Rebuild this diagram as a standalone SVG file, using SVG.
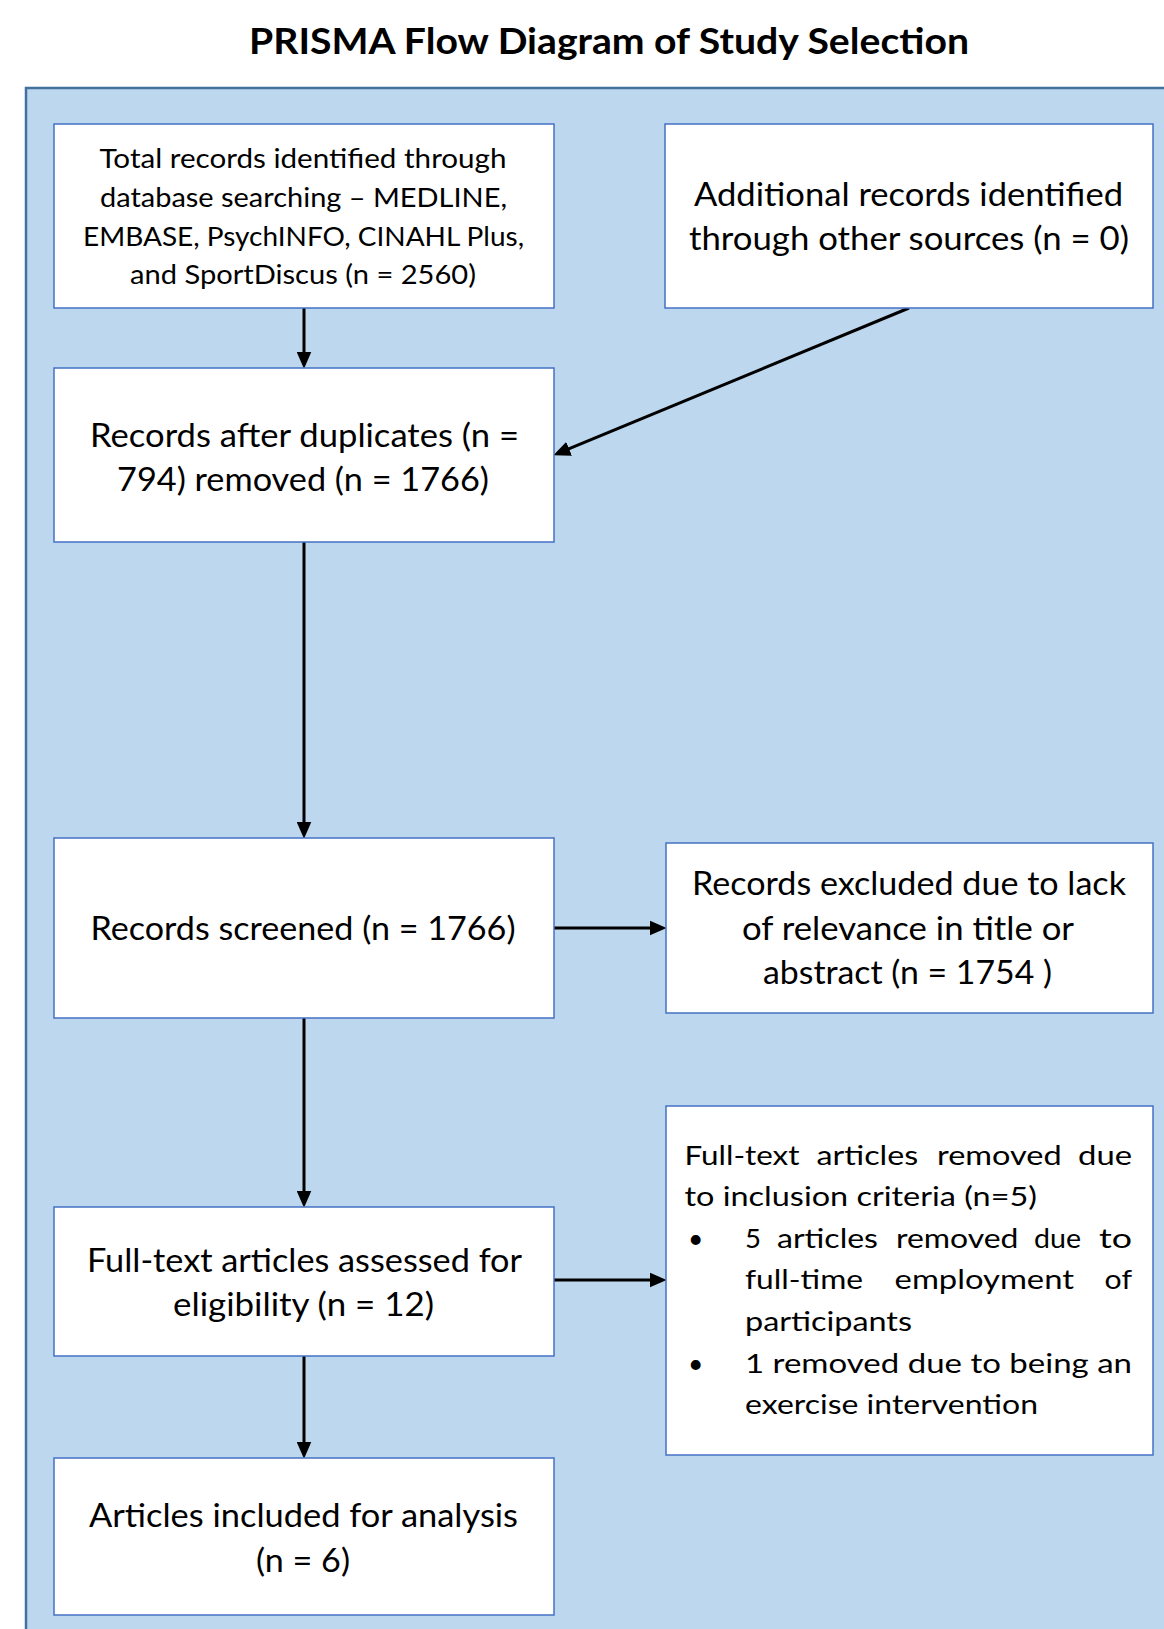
<svg xmlns="http://www.w3.org/2000/svg" width="1164" height="1629" viewBox="0 0 1164 1629">
<style>
.box{fill:#ffffff;stroke:#4472C4;stroke-width:1.5}
.t{font-family:Lato,"Open Sans","Liberation Sans",sans-serif;fill:#000000}
.s{font-size:26.5px}
.l{font-size:32.5px}
.conn{stroke:#000000;stroke-width:3;fill:none;marker-end:url(#ah)}
</style>
<defs>
<marker id="ah" markerUnits="userSpaceOnUse" markerWidth="17" markerHeight="15" viewBox="0 0 16 14" refX="6" refY="7" orient="auto">
<path d="M0,0 L16,7 L0,14 z" fill="#000000"/>
</marker>
</defs>
<rect x="0" y="0" width="1164" height="1629" fill="#ffffff"/>
<text class="t" x="249" y="54" font-size="35.5" font-weight="bold" textLength="720" lengthAdjust="spacingAndGlyphs">PRISMA Flow Diagram of Study Selection</text>
<rect id="panel" x="26" y="88" width="1160" height="1570" fill="#BDD7EE" stroke="#41719C" stroke-width="2.5"/>

<g id="connectors">
<line class="conn" x1="304" y1="308" x2="304" y2="358"/>
<line class="conn" x1="909" y1="308" x2="563.2" y2="451.2"/>
<line class="conn" x1="304" y1="542" x2="304" y2="828"/>
<line class="conn" x1="554" y1="928" x2="656" y2="928"/>
<line class="conn" x1="304" y1="1018" x2="304" y2="1197"/>
<line class="conn" x1="554" y1="1280" x2="656" y2="1280"/>
<line class="conn" x1="304" y1="1356" x2="304" y2="1448"/>
</g>

<g id="node-identified">
<rect class="box" x="54" y="124" width="500" height="184"/>
<text class="t s" x="99.5" y="168" textLength="407" lengthAdjust="spacingAndGlyphs">Total records identified through</text>
<text class="t s" x="100" y="207" textLength="407" lengthAdjust="spacingAndGlyphs">database searching – MEDLINE,</text>
<text class="t s" x="83" y="246" textLength="441" lengthAdjust="spacingAndGlyphs">EMBASE, PsychINFO, CINAHL Plus,</text>
<text class="t s" x="130" y="284" textLength="346" lengthAdjust="spacingAndGlyphs">and SportDiscus (n = 2560)</text>
</g>

<g id="node-additional">
<rect class="box" x="665" y="124" width="488" height="184"/>
<text class="t l" x="694" y="206" textLength="429" lengthAdjust="spacingAndGlyphs">Additional records identified</text>
<text class="t l" x="689" y="250" textLength="440" lengthAdjust="spacingAndGlyphs">through other sources (n = 0)</text>
</g>

<g id="node-duplicates">
<rect class="box" x="54" y="368" width="500" height="174"/>
<text class="t l" x="90" y="447" textLength="429" lengthAdjust="spacingAndGlyphs">Records after duplicates (n =</text>
<text class="t l" x="117" y="491" textLength="372" lengthAdjust="spacingAndGlyphs">794) removed (n = 1766)</text>
</g>

<g id="node-screened">
<rect class="box" x="54" y="838" width="500" height="180"/>
<text class="t l" x="90.5" y="940" textLength="425" lengthAdjust="spacingAndGlyphs">Records screened (n = 1766)</text>
</g>

<g id="node-excluded">
<rect class="box" x="666" y="843" width="487" height="170"/>
<text class="t l" x="692" y="895" textLength="434" lengthAdjust="spacingAndGlyphs">Records excluded due to lack</text>
<text class="t l" x="742" y="940" textLength="332" lengthAdjust="spacingAndGlyphs">of relevance in title or</text>
<text class="t l" x="763" y="984" textLength="289" lengthAdjust="spacingAndGlyphs">abstract (n = 1754 )</text>
</g>

<g id="node-assessed">
<rect class="box" x="54" y="1207" width="500" height="149"/>
<text class="t l" x="87" y="1272" textLength="435" lengthAdjust="spacingAndGlyphs">Full-text articles assessed for</text>
<text class="t l" x="173" y="1316" textLength="261" lengthAdjust="spacingAndGlyphs">eligibility (n = 12)</text>
</g>

<g id="node-removed">
<rect class="box" x="666" y="1106" width="487" height="349"/>
<text class="t s" y="1165"><tspan x="684.5" textLength="115" lengthAdjust="spacingAndGlyphs">Full-text</tspan> <tspan x="816.6" textLength="101.5" lengthAdjust="spacingAndGlyphs">articles</tspan> <tspan x="937" textLength="124.6" lengthAdjust="spacingAndGlyphs">removed</tspan> <tspan x="1078" textLength="54" lengthAdjust="spacingAndGlyphs">due</tspan></text>
<text class="t s" x="684.5" y="1206" textLength="352.5" lengthAdjust="spacingAndGlyphs">to inclusion criteria (n=5)</text>
<text class="t s" x="688" y="1248">•</text>
<text class="t s" y="1248"><tspan x="745" textLength="16" lengthAdjust="spacingAndGlyphs">5</tspan> <tspan x="777" textLength="101" lengthAdjust="spacingAndGlyphs">articles</tspan> <tspan x="896" textLength="122.5" lengthAdjust="spacingAndGlyphs">removed</tspan> <tspan x="1034" textLength="47" lengthAdjust="spacingAndGlyphs">due</tspan> <tspan x="1099" textLength="33" lengthAdjust="spacingAndGlyphs">to</tspan></text>
<text class="t s" y="1289"><tspan x="745" textLength="118" lengthAdjust="spacingAndGlyphs">full-time</tspan> <tspan x="894.6" textLength="179.4" lengthAdjust="spacingAndGlyphs">employment</tspan> <tspan x="1104.6" textLength="27.4" lengthAdjust="spacingAndGlyphs">of</tspan></text>
<text class="t s" x="745" y="1331" textLength="167" lengthAdjust="spacingAndGlyphs">participants</text>
<text class="t s" x="688" y="1373">•</text>
<text class="t s" x="745" y="1373" textLength="387" lengthAdjust="spacingAndGlyphs">1 removed due to being an</text>
<text class="t s" x="745" y="1414" textLength="293" lengthAdjust="spacingAndGlyphs">exercise intervention</text>
</g>

<g id="node-included">
<rect class="box" x="54" y="1458" width="500" height="157"/>
<text class="t l" x="89" y="1527" textLength="429" lengthAdjust="spacingAndGlyphs">Articles included for analysis</text>
<text class="t l" x="256" y="1572" textLength="94" lengthAdjust="spacingAndGlyphs">(n = 6)</text>
</g>
</svg>
